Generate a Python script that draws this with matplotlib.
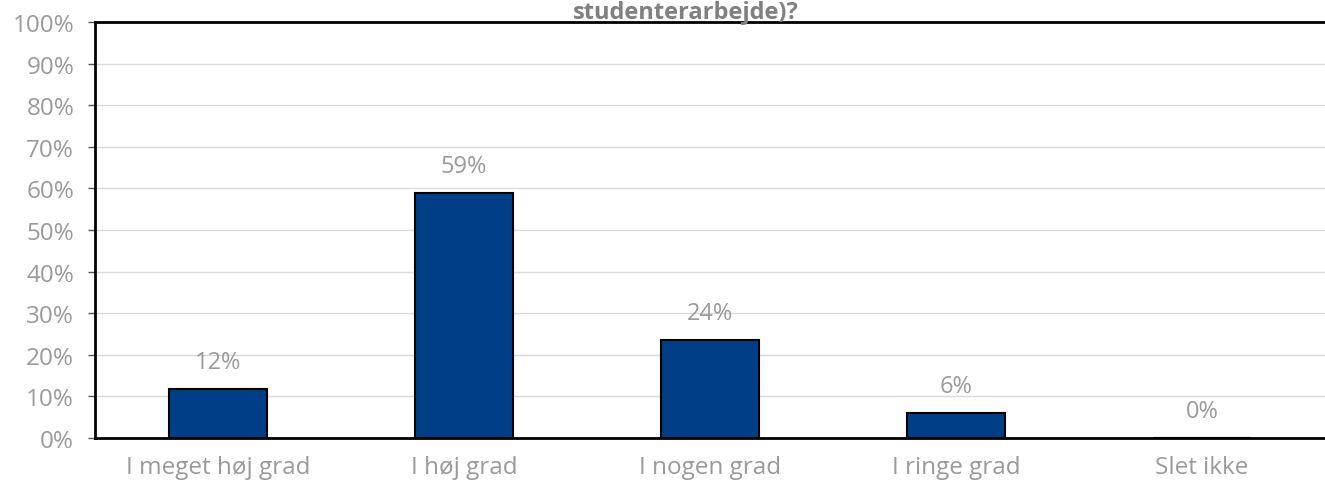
import numpy as np
import matplotlib.pyplot as plt

categories = ["I meget høj grad", "I høj grad", "I nogen grad", "I ringe grad", "Slet ikke"]
values = [11.8, 58.9, 23.6, 6.0, 0.0]
labels = ["12%", "59%", "24%", "6%", "0%"]
yticks = list(range(0, 101, 10))

plt.rcParams['font.family'] = ['Open Sans', 'DejaVu Sans']

fig = plt.figure(figsize=(13.25, 4.85), dpi=100)
ax = fig.add_axes([95 / 1325, 1 - 439 / 485, 1 - 95 / 1325, (439 - 23) / 485])

x = np.arange(len(categories))
ax.bar(x, values, width=0.4, color='#003f87', edgecolor='black', linewidth=1.5, zorder=3)

for xi, v, lab in zip(x, values, labels):
    ax.annotate(lab, (xi, v), xytext=(0, 11), textcoords='offset points',
                ha='center', va='bottom', fontsize=17, color='#9a9a9a')

ax.set_xlim(-0.5, len(categories) - 0.5)
ax.set_ylim(0, 100)
ax.set_yticks(yticks)
ax.set_yticklabels([f"{t}%" for t in yticks])
ax.set_xticks(x)
ax.set_xticklabels(categories)
ax.tick_params(axis='y', length=5, width=1, color='#555555', labelsize=17.5,
               labelcolor='#9a9a9a', pad=10)
ax.tick_params(axis='x', length=0, labelsize=17.5, labelcolor='#9a9a9a', pad=12)

ax.grid(axis='y', color='#d9d9d9', linewidth=1, zorder=0)
for side in ['left', 'top', 'bottom']:
    ax.spines[side].set_linewidth(2)
    ax.spines[side].set_color('black')
ax.spines['right'].set_visible(False)

# titlen er skåret af i originalen; kun sidste linje vises
fig.text(686 / 1325, 1 - 1 / 485, "studenterarbejde)?", ha='center', va='top',
         fontsize=17, fontweight='bold', color='#808080')

fig.savefig("out.png", dpi=100)
